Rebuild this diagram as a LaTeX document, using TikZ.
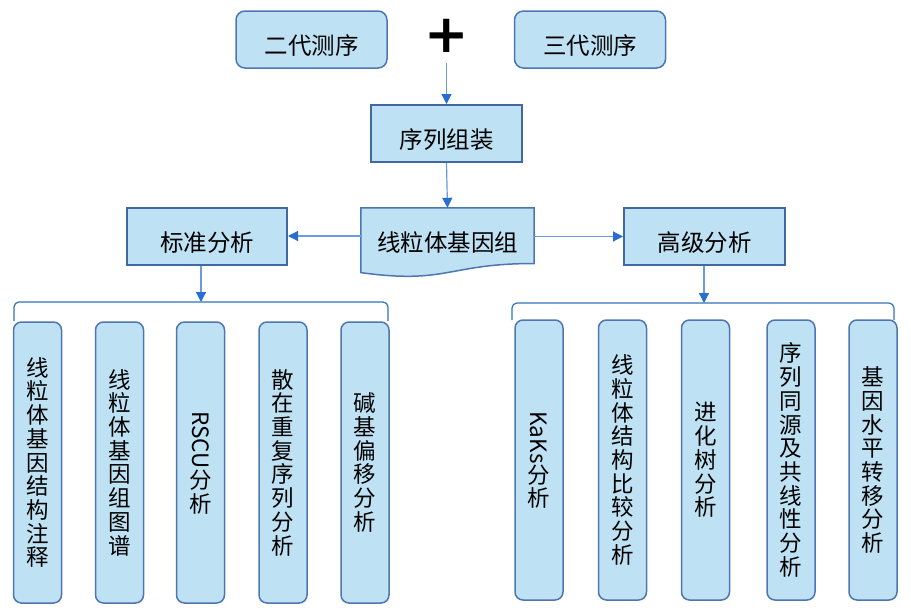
\documentclass[tikz,border=0pt]{standalone}
\usepackage{fontspec}
\usepackage{graphicx}
\setmainfont{Noto Sans CJK SC}
\newfontfamily\plusfont{DejaVu Sans}
\usetikzlibrary{arrows.meta}

\definecolor{boxfill}{RGB}{190,226,244}
\definecolor{boxline}{RGB}{80,118,178}
\definecolor{flatline}{RGB}{65,105,160}
\definecolor{arrline}{RGB}{105,155,225}
\definecolor{arrtip}{RGB}{40,110,210}
\definecolor{braceline}{RGB}{46,117,182}

\tikzset{
  roundbox/.style={draw=boxline, line width=1.5pt, fill=boxfill, rounded corners=9pt,
    minimum width=151pt, minimum height=57pt, text height=33pt, text depth=3pt,
    font=\fontsize{23.5}{25}\selectfont},
  flatbox/.style={draw=flatline, line width=2pt, fill=boxfill, minimum height=57pt,
    text height=33pt, text depth=3pt, font=\fontsize{23.5}{25}\selectfont},
  tallbox/.style={draw=boxline, line width=1.5pt, fill=boxfill, rounded corners=8pt,
    minimum width=48pt, minimum height=281pt, inner sep=0pt, align=center,
    font=\fontsize{22.5}{23.7}\selectfont},
  arr/.style={draw=arrline, line width=1.2pt, -{Triangle[length=10pt,width=10pt,color=arrtip]}},
  bracket/.style={draw=braceline, line width=1.2pt, rounded corners=5pt}
}

\begin{document}
\begin{tikzpicture}[x=1pt, y=-1pt]
    \useasboundingbox (0,0) rectangle (911,611);

    % Sequencing
    \node[roundbox] (seq2) at (311.5,39.5) {二代测序};
    \node[roundbox] (seq3) at (590,39.5) {三代测序};
    \node[inner sep=0pt, font=\plusfont\bfseries\fontsize{53}{53}\selectfont] (plus) at (446.5,36) {+};

    % Assembly
    \node[flatbox, minimum width=151pt] (asm) at (446.5,133.5) {序列组装};
    \draw[arr, shorten <=10pt] (plus.south) -- (asm.north);

    % Mitogenome (document shape)
    \node[minimum width=173pt, minimum height=69pt, inner sep=0pt] (mito) at (447.5,242.5) {};
    \filldraw[fill=boxfill, draw=boxline, line width=1.5pt]
        ([yshift=4.6pt]mito.south west) -- (mito.north west) -- (mito.north east)
        -- ([yshift=13.7pt]mito.south east)
        .. controls ([yshift=13.7pt]mito.south) and ([yshift=-7.4pt]mito.south)
        .. ([yshift=4.6pt]mito.south west) -- cycle;
    \node[font=\fontsize{23.5}{25}\selectfont] at (mito) {线粒体基因组};
    \draw[arr] (asm.south) -- (mito.north);

    % Two branches
    \node[flatbox, minimum width=160pt] (std) at (207,236) {标准分析};
    \node[flatbox, minimum width=161pt] (adv) at (704.5,236.5) {高级分析};
    \draw[arr] (std.east -| mito.west) -- (std.east);
    \draw[arr] (adv.west -| mito.east) -- (adv.west);

    % Brackets
    \coordinate (lb) at (201,302);
    \coordinate (rb) at (704,303);
    \draw[bracket] (14,321) |- (lb) -| (388,321);
    \draw[bracket] (512,320) |- (rb) -| (894,320);
    \draw[arr] (std.south -| lb) -- (lb);
    \draw[arr] (adv.south -| rb) -- (rb);

    % Standard analyses
    \node[tallbox] (s1) at (37.5,462.5) {线\\粒\\体\\基\\因\\结\\构\\注\\释};
    \node[tallbox] (s2) at (119.5,462.5) {线\\粒\\体\\基\\因\\组\\图\\谱};
    \node[tallbox] (s3) at (200.5,462.5) {\rotatebox{-90}{RSCU}\\分\\析};
    \node[tallbox] (s4) at (283,462.5) {散\\在\\重\\复\\序\\列\\分\\析};
    \node[tallbox] (s5) at (365,462.5) {碱\\基\\偏\\移\\分\\析};

    % Advanced analyses
    \node[tallbox, minimum height=280pt] (a1) at (539,460) {\rotatebox{-90}{KaKs}\\分\\析};
    \node[tallbox, minimum height=280pt] (a2) at (622.5,460) {线\\粒\\体\\结\\构\\比\\较\\分\\析};
    \node[tallbox, minimum height=280pt] (a3) at (705.5,460) {进\\化\\树\\分\\析};
    \node[tallbox, minimum height=280pt] (a4) at (791,460) {序\\列\\同\\源\\及\\共\\线\\性\\分\\析};
    \node[tallbox, minimum height=280pt] (a5) at (873,460) {基\\因\\水\\平\\转\\移\\分\\析};
\end{tikzpicture}
\end{document}
